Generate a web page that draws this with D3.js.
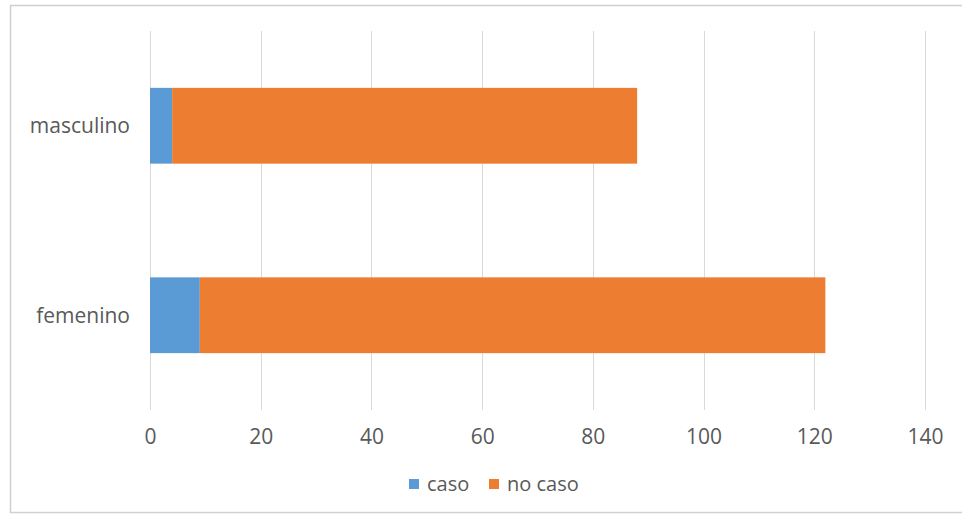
<!DOCTYPE html>
<html>
<head>
<meta charset="utf-8">
<script src="https://cdn.jsdelivr.net/npm/d3@7"></script>
<style>
  html, body { margin: 0; padding: 0; background: #fff; }
  svg { display: block; }
  text { font-family: "Open Sans", sans-serif; fill: #595959; }
</style>
</head>
<body>
<svg id="chart" width="962" height="516"></svg>
<script>
// Categories (top to bottom) and stacked series
const categories = ["masculino", "femenino"];
const seriesNames = ["caso", "no caso"];
const casoValues = [4, 9];
const noCasoValues = [84, 113];
const xTicks = [0, 20, 40, 60, 80, 100, 120, 140];
const colors = ["#5B9BD5", "#ED7D31"];

const svg = d3.select("#chart");
const W = 962;

// Chart frame
svg.append("rect")
  .attr("x", 10.5).attr("y", 5.5)
  .attr("width", W + 10).attr("height", 507)
  .attr("fill", "#fff")
  .attr("stroke", "#d0d0d0").attr("stroke-width", 1.5);

const plot = { left: 150, right: 925, top: 31, bottom: 410 };

const x = d3.scaleLinear().domain([0, 140]).range([plot.left, plot.right]);
const y = d3.scaleBand().domain(categories).range([plot.top, plot.bottom]).paddingInner(0.6).paddingOuter(0.3);

// Vertical gridlines
svg.append("g")
  .selectAll("line")
  .data(xTicks)
  .join("line")
  .attr("x1", d => Math.round(x(d)) + 0.5)
  .attr("x2", d => Math.round(x(d)) + 0.5)
  .attr("y1", plot.top).attr("y2", plot.bottom)
  .attr("stroke", "#d9d9d9").attr("stroke-width", 1);

// Stacked data
const rows = categories.map((c, i) => ({ cat: c, "caso": casoValues[i], "no caso": noCasoValues[i] }));
const stack = d3.stack().keys(seriesNames)(rows);

svg.append("g")
  .selectAll("g")
  .data(stack)
  .join("g")
  .attr("fill", (d, i) => colors[i])
  .selectAll("rect")
  .data(d => d)
  .join("rect")
  .attr("x", d => x(d[0]))
  .attr("width", d => x(d[1]) - x(d[0]))
  .attr("y", d => y(d.data.cat))
  .attr("height", y.bandwidth());

// X axis tick labels
const xAxis = d3.axisBottom(x).tickValues(xTicks).tickSize(0).tickPadding(0);
const gx = svg.append("g").attr("transform", `translate(0, ${plot.bottom})`).call(xAxis);
gx.select(".domain").remove();
gx.selectAll("text")
  .attr("y", 34)
  .attr("dy", 0)
  .style("font-size", "21px")
  .style("font-family", "'Open Sans', sans-serif")
  .attr("fill", "#595959");

// Y axis category labels
const yAxis = d3.axisLeft(y).tickSize(0).tickPadding(0);
const gy = svg.append("g").attr("transform", `translate(${plot.left}, 0)`).call(yAxis);
gy.select(".domain").remove();
gy.selectAll("text")
  .attr("x", -20)
  .attr("dy", "0.35em")
  .style("font-size", "21px")
  .style("font-family", "'Open Sans', sans-serif")
  .attr("fill", "#595959");

// Legend
const legend = svg.append("g").attr("transform", "translate(0, 484)");
const legendItems = [{ name: seriesNames[0], x: 409 }, { name: seriesNames[1], x: 489 }];
legendItems.forEach((it, i) => {
  legend.append("rect")
    .attr("x", it.x).attr("y", -5)
    .attr("width", 10).attr("height", 10)
    .attr("fill", colors[i]);
  legend.append("text")
    .attr("x", it.x + 18).attr("y", 0)
    .attr("dy", "0.35em")
    .style("font-size", "20px")
    .text(it.name);
});
</script>
</body>
</html>
